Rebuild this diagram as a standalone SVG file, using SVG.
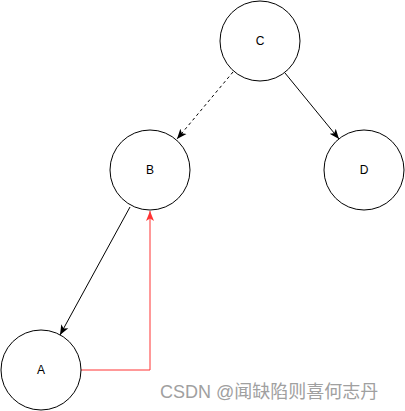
<svg xmlns="http://www.w3.org/2000/svg" width="405" height="411" viewBox="0 0 405 411">
<style>
.node{fill:#fff;stroke:#000;stroke-width:1}
.lbl{font-family:"Liberation Sans",Arial,sans-serif;font-size:12px;fill:#000;text-anchor:middle;dominant-baseline:central}
.edge{fill:none;stroke:#000;stroke-width:1}
.red{stroke:#ff3333}
.wm{font-family:"Liberation Sans","Noto Sans CJK SC",sans-serif;font-size:18px;fill:#a0a0a0}
</style>
<defs>
<marker id="arr" viewBox="0 0 10 10" refX="10" refY="5" markerWidth="10" markerHeight="10" markerUnits="userSpaceOnUse" orient="auto">
<path d="M0,1 L10,5 L0,9 L2.5,5 Z" fill="#000"/>
</marker>
<marker id="arrR" viewBox="0 0 10 10" refX="10" refY="5" markerWidth="10" markerHeight="10" markerUnits="userSpaceOnUse" orient="auto">
<path d="M0,1 L10,5 L0,9 L2.5,5 Z" fill="#ff3333"/>
</marker>
</defs>
<g id="connectors">
<line class="edge" x1="233" y1="72" x2="177" y2="139" stroke-dasharray="3 3" marker-end="url(#arr)"/>
<line class="edge" x1="285" y1="73" x2="339" y2="139" marker-end="url(#arr)"/>
<line class="edge" x1="130" y1="207" x2="60" y2="335" marker-end="url(#arr)"/>
<path class="edge red" d="M81,370 H150 V211" marker-end="url(#arrR)"/>
</g>
<g id="C"><circle class="node" cx="260" cy="41" r="40"/><text class="lbl" x="260" y="41">C</text></g>
<g id="B"><circle class="node" cx="150" cy="170" r="40"/><text class="lbl" x="150" y="170">B</text></g>
<g id="D"><circle class="node" cx="364" cy="170" r="40"/><text class="lbl" x="364" y="170">D</text></g>
<g id="A"><circle class="node" cx="41" cy="370" r="40"/><text class="lbl" x="41" y="370">A</text></g>
<text class="wm" x="160" y="398">CSDN @闻缺陷则喜何志丹</text>
</svg>
